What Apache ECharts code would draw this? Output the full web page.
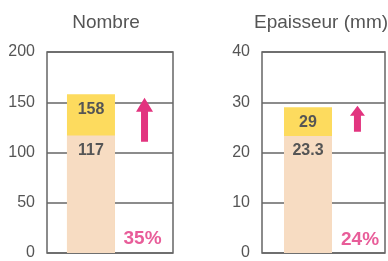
<!DOCTYPE html>
<html lang="fr">
<head>
  <meta charset="UTF-8">
  <title>Nombre / Epaisseur</title>
  <script src="https://cdn.jsdelivr.net/npm/echarts@6/dist/echarts.min.js"></script>
  <style>
    html, body, #main { margin: 0; padding: 0; width: 388px; height: 261px; background: #fff; }
  </style>
</head>
<body>
  <div id="main"></div>
  <script>
    const panelTitles = ['Nombre', 'Epaisseur (mm)'];
    const beforeValues = [117, 23.3];
    const afterValues = [158, 29];
    const changeLabels = ['35%', '24%'];
    const yMax = [200, 40];
    const yStep = [50, 10];
    // where the arrow tip / percent sit, in data units
    const arrowMid = [132.7, 26.7];
    const pctMid = [13.7, 2.7];

    const grey = '#555';
    const pink = '#e2347f';
    const arrows = [
      { path: 'path://M8.5,0 L17,14 L12,14 L12,44 L5,44 L5,14 L0,14 Z', size: [17, 44] },
      { path: 'path://M7.5,0 L15,10 L11,10 L11,26 L4,26 L4,10 L0,10 Z', size: [15, 26] }
    ];
    const barX = [0.349, 0.374];
    const arrowX = [0.774, 0.776];
    const pctX = [0.758, 0.797];

    const grids = [
      { left: 47, top: 52, width: 126, height: 205 },
      { left: 262, top: 52, width: 123, height: 205 }
    ];

    const font = 'Liberation Sans, Arial, sans-serif';
    const series = [];
    panelTitles.forEach((t, i) => {
      series.push({
        type: 'bar', xAxisIndex: i, yAxisIndex: i, barWidth: 48, barGap: '-100%',
        data: [[barX[i], afterValues[i]]],
        itemStyle: { color: '#fddb5e' },
        label: { show: true, position: 'insideTop', distance: 7, color: grey, fontWeight: 'bold', fontSize: 16, fontFamily: font,
          formatter: p => p.value[1] }
      });
      series.push({
        type: 'bar', xAxisIndex: i, yAxisIndex: i, barWidth: 48, barGap: '-100%',
        data: [[barX[i], beforeValues[i]]],
        itemStyle: { color: '#f7dcc2' },
        label: { show: true, position: 'insideTop', distance: 7, color: grey, fontWeight: 'bold', fontSize: 16, fontFamily: font,
          formatter: p => p.value[1] }
      });
      series.push({
        type: 'scatter', xAxisIndex: i, yAxisIndex: i,
        symbol: arrows[i].path, symbolSize: arrows[i].size,
        itemStyle: { color: pink, opacity: 1 },
        data: [[arrowX[i], arrowMid[i]]]
      });
      series.push({
        type: 'scatter', xAxisIndex: i, yAxisIndex: i, symbolSize: 0,
        data: [[pctX[i], pctMid[i]]],
        label: { show: true, position: 'inside', color: pink, fontWeight: 'bold', fontSize: 19, fontFamily: font,
          formatter: () => changeLabels[i] }
      });
    });

    const chart = echarts.init(document.getElementById('main'));
    chart.setOption({
      animation: false,
      title: [
        { text: panelTitles[0], left: 101, top: 8, textAlign: 'center',
          textStyle: { fontSize: 19, fontWeight: 'normal', color: grey, fontFamily: font } },
        { text: panelTitles[1], left: 316, top: 8, textAlign: 'center',
          textStyle: { fontSize: 19, fontWeight: 'normal', color: grey, fontFamily: font } }
      ],
      grid: grids.map(g => Object.assign({ show: true, borderColor: '#666', borderWidth: 1.5, backgroundColor: 'transparent' }, g)),
      xAxis: grids.map((g, i) => ({
        type: 'value', gridIndex: i, min: 0, max: 1, show: false
      })),
      yAxis: grids.map((g, i) => ({
        type: 'value', gridIndex: i, min: 0, max: yMax[i], interval: yStep[i],
        axisLine: { show: false }, axisTick: { show: false },
        axisLabel: { color: grey, fontSize: 16, fontFamily: font, margin: 12, padding: [0, 0, 6, 0] },
        splitLine: { lineStyle: { color: '#666', width: 1.5 } }
      })),
      series: series
    });
  </script>
</body>
</html>
